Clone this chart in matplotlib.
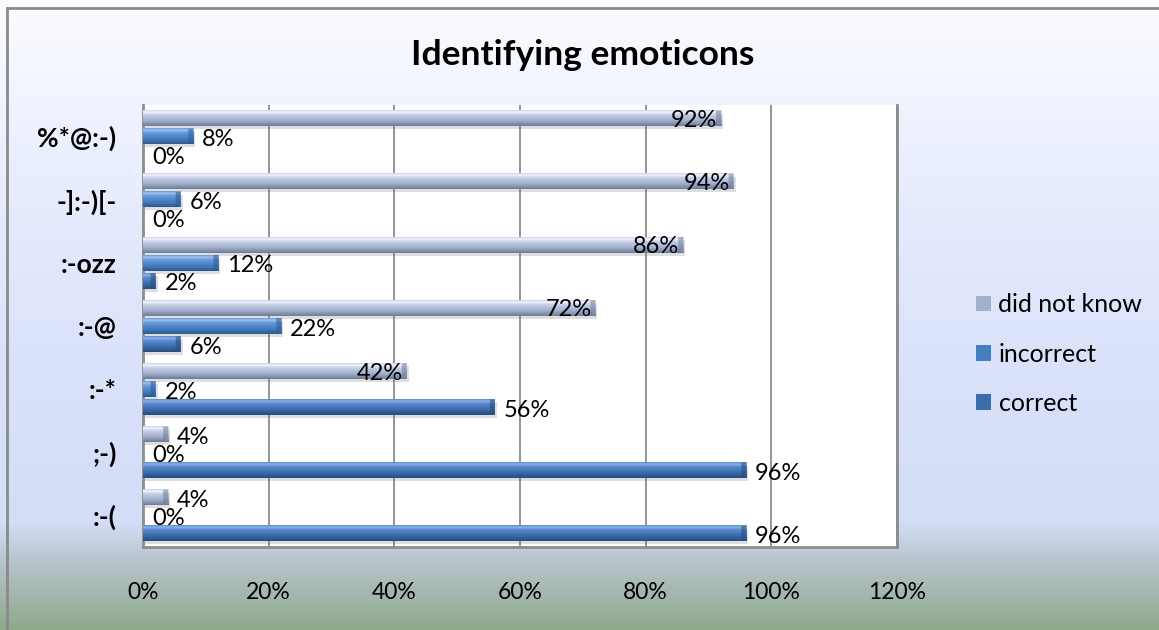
import numpy as np
import matplotlib
matplotlib.use("Agg")
import matplotlib.pyplot as plt
from matplotlib.colors import LinearSegmentedColormap
from matplotlib.lines import Line2D

plt.rcParams['font.family'] = ['Lato', 'DejaVu Sans']

# Emoticons, listed bottom to top
categories = [":-(", ";-)", ":-*", ":-@", ":-ozz", "-]:-)[-", "%*@:-)"]
correct = [96, 96, 56, 6, 2, 0, 0]
incorrect = [0, 0, 2, 22, 12, 6, 8]
did_not_know = [4, 4, 42, 72, 86, 94, 92]
x_ticks = [0, 20, 40, 60, 80, 100, 120]

W, H = 1159, 630
fig = plt.figure(figsize=(W / 100, H / 100), dpi=100)

# Chart-area background: white at the top, pale blue, then a grey-green band
bg = fig.add_axes([0, 0, 1, 1], zorder=-10)
bg.set_axis_off()
bg_cmap = LinearSegmentedColormap.from_list(
    "bg",
    [(0.0, "#8fa98b"), (0.10, "#b4c2c8"), (0.17, "#d3ddf6"),
     (0.45, "#dbe3fb"), (0.75, "#eaeffd"), (1.0, "#fbfcff")])
bg.imshow(np.linspace(0, 1, 256).reshape(-1, 1), aspect="auto", cmap=bg_cmap,
          origin="lower", extent=(0, 1, 0, 1))
bg.set_xlim(0, 1)
bg.set_ylim(0, 1)
# outer border (top and left edges)
bg.add_line(Line2D([7 / W, 7 / W], [0, 1 - 8 / H], color="#8a8a8a", lw=2))
bg.add_line(Line2D([7 / W, 1], [1 - 8 / H, 1 - 8 / H], color="#8a8a8a", lw=2))

L, R, T, B = 143, 897, 105, 547
ax = fig.add_axes([L / W, 1 - B / H, (R - L) / W, (B - T) / H])
ax.set_facecolor("white")

px_x = 120 / (R - L)          # data units per pixel, x
px_y = 7 / (B - T)            # data units per pixel, y

series = [
    ("correct", correct, -0.286, ("#284c7c", "#3c6cab", "#5a8bcc", "#8cb2e8")),
    ("incorrect", incorrect, 0.0, ("#2e5990", "#467ec2", "#679bdd", "#a0c2ef")),
    ("did not know", did_not_know, 0.286, ("#6f7c99", "#a3b0cb", "#c6d1e8", "#f2f5fc")),
]
bar_h = 0.245
ypos = np.arange(len(categories))
label_fs = 17

containers = {}
for name, vals, off, (dark, mid, light, top) in series:
    cont = ax.barh(ypos + off, vals, height=bar_h, color=mid, zorder=3,
                   label=name, edgecolor="none")
    containers[name] = cont
    # soft shadow beneath each bar
    ax.barh(ypos + off - 3 * px_y, vals, height=bar_h, left=2 * px_x,
            color="#6b6b6b", alpha=0.22, zorder=2, edgecolor="none")
    cmap = LinearSegmentedColormap.from_list(
        name, [(0, dark), (0.35, mid), (0.72, light), (0.88, top), (1.0, light)])
    grad = np.linspace(0, 1, 64).reshape(-1, 1)
    for p in cont.patches:
        x0, y0, w, h = p.get_x(), p.get_y(), p.get_width(), p.get_height()
        if w <= 0:
            continue
        ax.imshow(grad, extent=(x0, x0 + w, y0, y0 + h), aspect="auto",
                  cmap=cmap, origin="lower", zorder=4)
        # bevelled end of the bar
        cap = min(5 * px_x, w)
        ax.fill([x0 + w - cap, x0 + w, x0 + w, x0 + w - cap],
                [y0, y0 + 0.25 * h, y0 + h, y0 + h],
                color=dark, alpha=0.55, zorder=5, lw=0)

# value labels
for name, vals, off, _ in series:
    for yi, v in zip(ypos, vals):
        if name == "did not know" and v >= 20:
            ax.annotate(f"{v}%", (v, yi + off), xytext=(-4, -2),
                        textcoords="offset pixels", ha="right", va="center",
                        fontsize=label_fs, zorder=6)
        else:
            ax.annotate(f"{v}%", (v, yi + off), xytext=(9, -3),
                        textcoords="offset pixels", ha="left", va="center",
                        fontsize=label_fs, zorder=6)

ax.set_xlim(0, 120)
ax.set_ylim(-0.5, len(categories) - 0.5)
ax.set_xticks(x_ticks)
ax.set_xticklabels([f"{t}%" for t in x_ticks], fontsize=16.5)
ax.set_yticks(ypos)
ax.set_yticklabels(categories, fontsize=19, fontweight="bold")
ax.tick_params(axis="x", length=0, pad=25)
ax.tick_params(axis="y", length=0, pad=19)
ax.grid(axis="x", color="#8c8c8c", lw=1.3, zorder=1)
ax.set_axisbelow(True)
for s in ("left", "bottom", "right"):
    ax.spines[s].set_color("#8c8c8c")
    ax.spines[s].set_linewidth(2)
ax.spines["top"].set_visible(False)

fig.text(583 / W, 1 - 55 / H, "Identifying emoticons", ha="center", va="center",
         fontsize=25.5, fontweight="bold")

handles = [containers["did not know"], containers["incorrect"], containers["correct"]]
fig.legend(handles, ["did not know", "incorrect", "correct"],
           loc="center left", bbox_to_anchor=(966 / W, 1 - 354 / H),
           frameon=False, fontsize=18, handlelength=0.6, handleheight=0.6,
           handletextpad=0.3, labelspacing=1.05, borderaxespad=0)

fig.savefig("out.png", dpi=100)
